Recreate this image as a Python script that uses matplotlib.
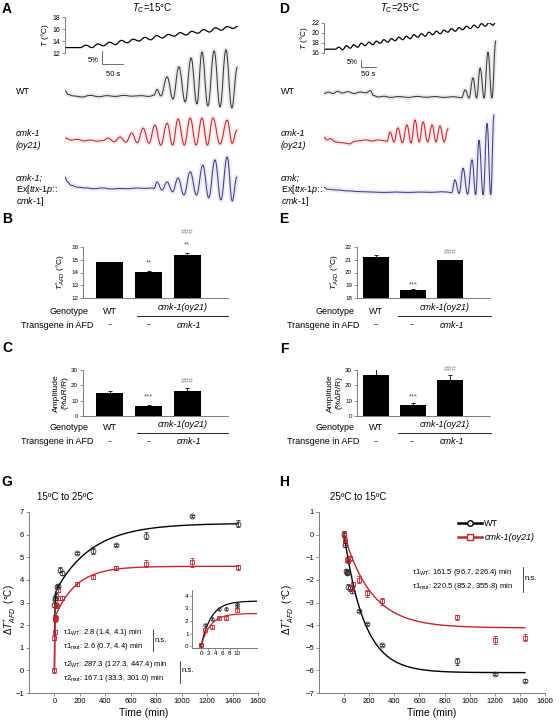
import numpy as np
import matplotlib
matplotlib.use('Agg')
import matplotlib.pyplot as plt
from matplotlib.lines import Line2D
from matplotlib.path import Path
from matplotlib.patches import PathPatch

plt.rcParams['font.family'] = ['Liberation Sans', 'DejaVu Sans']
plt.rcParams['mathtext.fontset'] = 'custom'
plt.rcParams['mathtext.rm'] = 'Liberation Sans'
plt.rcParams['mathtext.it'] = 'Liberation Sans:italic'
plt.rcParams['mathtext.bf'] = 'Liberation Sans:bold'

# ---------------- data ----------------
# A: temperature ramp (s, degC) and GCaMP traces (s, %dR/R relative to baseline)
A_T_t = [0, 36, 50, 64, 78, 92, 106, 120, 134, 148, 162, 176, 190, 204, 218, 232,
         246, 260, 274, 288, 302, 316, 330, 344, 358, 372, 386, 400, 410]
A_T_v = [12.9, 12.9, 13.3, 12.9, 13.5, 13.2, 13.8, 13.4, 14.1, 13.7, 14.3, 14.0, 14.6, 14.2,
         14.9, 14.5, 15.1, 14.8, 15.4, 15.0, 15.6, 15.3, 15.9, 15.5, 16.2, 15.8, 16.4, 16.1, 16.4]
A_wt_t = [0, 8, 20, 40, 60, 80, 100, 120, 140, 160, 180, 200, 212, 219, 228, 243, 257,
          271, 286, 300, 314, 326, 340, 355, 369, 383, 397, 410]
A_wt_v = [2.0, 0.5, 0.0, -0.4, 0.2, -0.3, 0.1, -0.2, 0.2, -0.1, 0.1, -0.2, 0.3, 2.5, 0.0,
          7.3, -1.2, 11.2, -2.3, 14.6, -3.1, 16.9, -3.8, 17.3, -4.2, 17.7, -4.6, 11.0]
A_cmk_t = [0, 15, 30, 45, 60, 75, 90, 102, 117, 131, 145, 159, 172, 186, 200, 214, 228,
           243, 256, 269, 284, 298, 312, 326, 339, 352, 369, 386, 398, 409]
A_cmk_v = [0.8, 0.0, 0.3, -0.3, 0.0, -0.4, -0.2, 0.8, -0.6, 1.2, -0.8, 2.7, -1.0, 4.6, -1.2,
           5.8, -1.9, 6.5, -1.9, 8.1, -1.9, 8.5, -1.9, 8.5, -1.9, 8.5, -1.5, 7.7, -1.2, 3.8]
A_res_t = [0, 5, 15, 30, 50, 70, 90, 110, 130, 150, 170, 190, 205, 212, 219, 231, 243,
           256, 269, 283, 298, 313, 328, 342, 357, 371, 386, 398, 409]
A_res_v = [4.2, 2.5, 1.0, 0.3, 0.0, -0.3, 0.0, -0.4, -0.2, -0.3, 0.0, -0.2, 0.0, -0.2, 2.3,
           -0.8, 2.3, -1.5, 3.8, -2.7, 6.2, -2.7, 8.8, -3.8, 10.8, -4.6, 11.9, -5.0, 4.2]

# D: temperature ramp sampled every 12.5 s after 37 s
D_T_start = 16.7
D_T_v = [16.7, 17.1, 16.6, 17.4, 16.9, 17.6, 17.1, 17.9, 17.4, 18.1, 17.6, 18.3, 17.9, 18.6,
         18.1, 18.8, 18.4, 19.1, 18.6, 19.3, 18.8, 19.6, 19.1, 19.8, 19.3, 20.1, 19.6, 20.3,
         19.8, 20.5, 20.1, 20.8, 20.3, 21.0, 20.6, 21.3, 20.8, 21.5, 21.0, 21.8, 21.3, 22.0,
         21.5, 22.3]
D_wt_t = [0, 15, 30, 45, 60, 80, 100, 120, 140, 155, 165, 180, 200, 220, 250, 280, 310,
          340, 370, 400, 430, 458, 470, 483, 496, 508, 520, 533, 546, 559, 572]
D_wt_v = [2.5, 3.5, 2.5, 4.0, 2.8, 3.8, 2.5, 3.5, 3.0, 4.5, 1.0, 0.0, 0.5, -0.3, 0.3, -0.3,
          0.4, -0.2, 0.3, -0.3, 0.2, -0.5, 5.0, -0.7, 13.6, -0.7, 20.7, -0.7, 32.0, -0.7, 40.0]
D_cmk_t = [0, 10, 20, 40, 60, 87, 100, 120, 140, 160, 180, 200, 210, 220, 233, 246, 261,
           276, 290, 303, 317, 330, 345, 360, 373, 386, 400, 413]
D_cmk_v = [2.0, 0.0, 1.0, -1.5, -2.0, -2.8, -1.0, -0.5, 0.0, -0.7, 0.0, -0.5, -1.0, 5.7,
           -1.4, 8.6, -2.0, 10.7, -2.1, 14.3, -1.4, 12.9, -1.4, 10.7, -1.4, 10.0, -1.4, 8.0]
D_res_t = [0, 10, 40, 80, 120, 160, 200, 240, 280, 320, 360, 390, 410, 425, 436, 450, 463,
           478, 493, 505, 516, 530, 543, 555, 566]
D_res_v = [3.5, 2.0, 1.5, 0.8, 0.3, 0.0, -0.3, 0.0, -0.3, 0.0, -0.2, 0.2, 0.0, -0.5, 8.6,
           -1.0, 17.0, -1.5, 23.0, -2.0, 37.0, -2.0, 49.0, -2.0, 55.0]

# B, C, E, F bar charts (WT, cmk-1(oy21), cmk-1 rescue)
B_val, B_err = [14.8, 14.05, 15.4], [0.05, 0.08, 0.1]
C_val, C_err = [15.3, 6.2, 16.5], [1.3, 0.7, 1.5]
E_val, E_err = [21.25, 18.6, 20.95], [0.12, 0.08, 0.05]
F_val, F_err = [27.0, 7.5, 23.5], [4.0, 0.8, 3.2]

# G: 15 -> 25 C
G_wt_t = [0, 2, 5, 10, 20, 30, 45, 60, 180, 300, 480, 720, 1080, 1440]
G_wt_y = [2.9, 3.2, 3.1, 3.3, 3.7, 3.75, 4.45, 4.3, 5.2, 5.28, 5.55, 5.95, 6.82, 6.48]
G_wt_e = [0.1, 0.08, 0.1, 0.1, 0.08, 0.08, 0.12, 0.1, 0.05, 0.12, 0.05, 0.15, 0.05, 0.15]
G_mut_t = [0, 0, 1, 2, 5, 10, 15, 20, 30, 45, 60, 180, 300, 480, 720, 1080, 1440]
G_mut_y = [0.0, 1.45, 1.7, 2.25, 2.35, 2.3, 2.9, 2.85, 3.55, 3.2, 3.2, 3.82, 4.13, 4.53,
           4.72, 4.78, 4.55]
G_mut_e = [0.12, 0.1, 0.1, 0.1, 0.1, 0.1, 0.1, 0.08, 0.1, 0.1, 0.08, 0.08, 0.1, 0.08,
           0.15, 0.2, 0.1]
G_tau_wt = (2.8, 287.3)
G_tau_mut = (2.6, 167.1)
G_amp_wt = (3.4, 3.1)
G_amp_mut = (2.3, 2.3)
# G inset (first 10 min)
Gi_wt_t = [0, 1, 3, 5, 7, 10, 10]
Gi_wt_y = [0.05, 1.7, 2.2, 2.95, 3.0, 3.2, 3.35]
Gi_mut_t = [0, 1, 3, 5, 7, 10]
Gi_mut_y = [0.05, 1.3, 1.55, 2.25, 2.25, 2.85]
Gi_amp_wt, Gi_amp_mut = 3.6, 2.6

# H: 25 -> 15 C
H_wt_t = [0, 5, 15, 20, 25, 30, 45, 60, 120, 180, 300, 900, 1200, 1440]
H_wt_y = [0.0, -0.45, -1.6, -1.7, -1.65, -2.3, -2.38, -2.5, -3.37, -3.95, -4.88, -5.6,
          -6.15, -6.45]
H_wt_e = [0.1, 0.1, 0.1, 0.1, 0.08, 0.1, 0.1, 0.1, 0.06, 0.06, 0.05, 0.15, 0.05, 0.08]
H_mut_t = [0, 5, 10, 20, 30, 45, 60, 70, 120, 180, 300, 900, 1200, 1440]
H_mut_y = [0.05, -0.25, -0.35, -1.1, -1.15, -1.05, -2.35, -2.2, -2.0, -2.6, -2.95, -3.66,
           -4.65, -4.56]
H_mut_e = [0.1, 0.1, 0.1, 0.12, 0.1, 0.1, 0.12, 0.1, 0.15, 0.15, 0.15, 0.1, 0.18, 0.15]
H_tau_wt, H_tau_mut = 161.5, 220.5
H_amp_wt, H_amp_mut = -6.1, -4.12

RED = '#c1272d'
BLUE = '#3c3c8c'
GREY = '#3a3a3a'
SPINE = '#666666'

W, H = 560, 721
fig = plt.figure(figsize=(W / 100, H / 100), dpi=100)


def px_axes(x0, y0, x1, y1):
    return fig.add_axes([x0 / W, 1 - y1 / H, (x1 - x0) / W, (y1 - y0) / H])


def ftext(x, y, s, **kw):
    kw.setdefault('va', 'center')
    fig.text(x / W, 1 - y / H, s, **kw)


def fline(xs, ys, **kw):
    fig.add_artist(Line2D([x / W for x in xs], [1 - y / H for y in ys], **kw))


def style(ax, size=5.5):
    for s in ['top', 'right']:
        ax.spines[s].set_visible(False)
    for s in ['left', 'bottom']:
        ax.spines[s].set_color(SPINE)
        ax.spines[s].set_linewidth(0.6)
    ax.tick_params(labelsize=size, length=2, width=0.5, color=SPINE, pad=1.5)


def smooth_trace(ax, t, v, **kw):
    # draw the measured points joined by Bezier segments with flat tangents at each point
    verts = [(t[0], v[0])]
    codes = [Path.MOVETO]
    for i in range(1, len(t)):
        d = (t[i] - t[i - 1]) * 0.4
        verts += [(t[i - 1] + d, v[i - 1]), (t[i] - d, v[i]), (t[i], v[i])]
        codes += [Path.CURVE4] * 3
    ax.add_patch(PathPatch(Path(verts, codes), fill=False, capstyle='round', **kw))


# panel letters
for lab, x, y in [('A', 7, 9), ('B', 7, 219), ('C', 7, 348), ('D', 284, 9),
                  ('E', 284, 219), ('F', 284, 349), ('G', 7, 482), ('H', 284, 482)]:
    ftext(x, y, lab, fontsize=10, fontweight='bold', ha='center')

# ---------------- A / D traces ----------------


def trace_panel(tbox, ybox, xmax, T_t, T_v, T_lim, T_ticks, traces, ylim, scale, title, tx):
    axT = px_axes(*tbox)
    axT.set_xlim(0, xmax)
    axT.set_ylim(*T_lim)
    smooth_trace(axT, T_t, T_v, color='black', lw=0.9)
    axT.set_yticks(T_ticks)
    style(axT, 5)
    axT.spines['bottom'].set_visible(False)
    axT.set_xticks([])
    axT.patch.set_alpha(0)
    axT.set_ylabel(r'$T$ (°C)', fontsize=6, labelpad=1)

    ax = px_axes(*ybox)
    ax.set_xlim(0, xmax)
    ax.set_ylim(*ylim)
    ax.axis('off')
    for t, v, off, c in traces:
        v = np.asarray(v) + off
        smooth_trace(ax, t, v, color=c, lw=3.5, alpha=0.1)
        smooth_trace(ax, t, v, color=c, lw=0.75)
    sx, sy, sw, sh = scale
    ax.plot([sx, sx, sx + sw], [sy, sy - sh, sy - sh], color='#555555', lw=0.6)
    ftext(tx, 8, title, fontsize=7, ha='center')
    return ax


trace_panel((65, 17, 240, 53), (65, 40, 240, 215), 416.5, A_T_t, A_T_v, (12, 18),
            [12, 14, 16, 18],
            [(A_wt_t, A_wt_v, -21.5, GREY), (A_cmk_t, A_cmk_v, -38.5, RED),
             (A_res_t, A_res_v, -56.9, BLUE)],
            (-67.3, 0), (88, -4.2, 50, 5), r'$T_{C}$=15°C', 152)
ftext(99, 60, '5%', fontsize=5.5, ha='right')
ftext(113, 74, '50 s', fontsize=5.5, ha='center')

D_T_t = np.r_[0, 37 + 12.5 * np.arange(len(D_T_v))]
trace_panel((324, 22.7, 500, 52.7), (324, 40, 500, 215), 586, D_T_t, np.r_[D_T_start, D_T_v],
            (16, 22), [16, 18, 20, 22],
            [(D_wt_t, D_wt_v, -40.7, GREY), (D_cmk_t, D_cmk_v, -71.4, RED),
             (D_res_t, D_res_v, -108.6, BLUE)],
            (-125, 0), (123, -14.3, 50, 5), r'$T_{C}$=25°C', 400)
ftext(358, 62, '5%', fontsize=5.5, ha='right')
ftext(368, 74, '50 s', fontsize=5.5, ha='center')

lab_kw = dict(fontsize=6.5, ha='left')
for x0 in (16, 281):
    ftext(x0, 92, 'WT', **lab_kw)
    ftext(x0, 133, 'cmk-1', style='italic', **lab_kw)
    ftext(x0, 145, '(oy21)', style='italic', **lab_kw)
    ftext(x0, 190, r'Ex[$\mathit{ttx}$-$\mathit{1p}$::', **lab_kw)
    ftext(x0, 202, r'$\mathit{cmk}$-$\mathit{1}$]', **lab_kw)
ftext(16, 178, 'cmk-1;', style='italic', **lab_kw)
ftext(281, 178, 'cmk;', style='italic', **lab_kw)

# ---------------- bar panels ----------------


def bar_panel(box, xlim, vals, errs, ylim, yticks, ylabel, marks):
    ax = px_axes(*box)
    ax.bar(range(3), vals, width=0.7, color='black', bottom=0,
           yerr=[[0, 0, 0], errs], error_kw=dict(ecolor='black', elinewidth=0.6, capsize=1.5,
                                                 capthick=0.6))
    ax.set_xlim(*xlim)
    ax.set_ylim(*ylim)
    ax.set_yticks(yticks)
    ax.set_xticks([])
    style(ax, 4.5)
    ax.set_ylabel(ylabel, fontsize=6, labelpad=2)
    for i, y, s, c in marks:
        ax.text(i, y, s, fontsize=5.5, ha='center', va='center', color=c, clip_on=False)
    return ax


def genotype_rows(xlab, xs, y0, line):
    ftext(xlab, y0, 'Genotype', fontsize=6.5, ha='right')
    ftext(xlab + 4, y0 + 14, 'Transgene in AFD', fontsize=6.5, ha='right')
    ftext(xs[0], y0, 'WT', fontsize=6.5, ha='center')
    ftext((line[0] + line[1]) / 2, y0 - 3, 'cmk-1(oy21)', fontsize=6.5, ha='center',
          style='italic')
    fline(line, [y0 + 5, y0 + 5], color='black', lw=0.6)
    ftext(xs[0], y0 + 14, '--', fontsize=5.5, ha='center')
    ftext(xs[1], y0 + 14, '--', fontsize=5.5, ha='center')
    ftext(xs[2] + 2, y0 + 14, 'cmk-1', fontsize=6.5, ha='center', style='italic')


Tlab = r'$T^{*}_{AFD}$ (°C)'
Alab = 'Amplitude\n(%ΔR/R)'
STAR = '#555555'
HASH = '#888888'
bar_panel((83, 247, 228, 298), (-0.7, 3.06), B_val, B_err, (12, 16), [12, 13, 14, 15, 16], Tlab,
          [(1, 14.72, '**', STAR), (2, 16.15, '**', STAR), (2, 17.1, '###', HASH)])
bar_panel((83, 370, 228, 416), (-0.7, 3.06), C_val, C_err, (0, 30), [0, 10, 20, 30], Alab,
          [(1, 12.4, '***', STAR), (2, 22.2, '###', HASH)])
bar_panel((357, 247, 490, 298), (-0.51, 3.08), E_val, E_err, (18, 22), [18, 19, 20, 21, 22], Tlab,
          [(1, 19.0, '***', STAR), (2, 21.6, '###', HASH)])
bar_panel((357, 370, 490, 416), (-0.51, 3.08), F_val, F_err, (0, 30), [0, 10, 20, 30], Alab,
          [(1, 12.4, '***', STAR), (2, 30.3, '###', HASH)])
genotype_rows(89, (110, 149, 187), 311, (137, 228))
genotype_rows(89, (110, 149, 187), 428, (137, 228))
genotype_rows(355, (376, 412, 450), 311, (398, 491))
genotype_rows(355, (376, 412, 450), 428, (398, 491))

# ---------------- G / H ----------------
mk = dict(ms=3.5, mew=0.6, mfc='none', ls='none', elinewidth=0.6, capsize=1.2, capthick=0.6)
t_fit = np.linspace(0, 1440, 600)
dT_lab = 'Δ' + r'$T^{*}_{AFD}$' + '  (°C)'

axG = px_axes(29, 512, 258, 693)
axG.errorbar(G_wt_t, G_wt_y, yerr=G_wt_e, marker='o', color='#333333', **mk)
axG.errorbar(G_mut_t, G_mut_y, yerr=G_mut_e, marker='s', color=RED, **mk)
axG.plot(t_fit, G_amp_wt[0] * (1 - np.exp(-t_fit / G_tau_wt[0]))
         + G_amp_wt[1] * (1 - np.exp(-t_fit / G_tau_wt[1])), color='black', lw=1)
axG.plot(t_fit, G_amp_mut[0] * (1 - np.exp(-t_fit / G_tau_mut[0]))
         + G_amp_mut[1] * (1 - np.exp(-t_fit / G_tau_mut[1])), color=RED, lw=1)
axG.set_xlim(-200, 1600)
axG.set_ylim(-1, 7)
axG.set_xticks(range(0, 1601, 200))
axG.set_yticks(range(-1, 8))
style(axG, 5.5)
axG.set_xlabel('Time (min)', fontsize=7.5, labelpad=2)
axG.set_ylabel(dT_lab, fontsize=7)
axG.yaxis.set_label_coords(-0.05, 0.46)
ftext(37, 497, '15ºC to 25ºC', fontsize=7, ha='left')

sub = dict(fontsize=5.5, ha='left')
ftext(63, 633, r'τ1$_{\mathrm{WT}}$: 2.8 (1.4, 4.1) min', **sub)
ftext(63, 647, r'τ1$_{\mathrm{mut}}$: 2.6 (0.7, 4.4) min', **sub)
fline([153, 153], [629, 651], color='black', lw=0.5)
ftext(155, 641, 'n.s.', **sub)
ftext(63, 665, r'τ2$_{\mathrm{WT}}$: 287.3 (127.3, 447.4) min', **sub)
ftext(63, 678, r'τ2$_{\mathrm{mut}}$: 167.1 (33.3, 301.0) min', **sub)
fline([180, 180], [661, 683], color='black', lw=0.5)
ftext(182, 671, 'n.s.', **sub)

axI = px_axes(192, 590, 257, 648)
ti = np.linspace(0, 15.5, 200)
axI.plot(ti, Gi_amp_wt * (1 - np.exp(-ti / G_tau_wt[0])), color='black', lw=0.9)
axI.plot(ti, Gi_amp_mut * (1 - np.exp(-ti / G_tau_mut[0])), color=RED, lw=0.9)
mki = dict(mk, ms=2.5, capsize=0.8)
axI.errorbar(Gi_wt_t, Gi_wt_y, yerr=0.1, marker='o', color='#333333', **mki)
axI.errorbar(Gi_mut_t, Gi_mut_y, yerr=0.1, marker='s', color=RED, **mki)
axI.set_xlim(-2.5, 15.5)
axI.set_ylim(-0.16, 4.48)
axI.set_xticks([0, 2, 4, 6, 8, 10])
axI.set_yticks([0, 1, 2, 3, 4])
style(axI, 4.5)
axI.tick_params(length=1.5, pad=1)

axH = px_axes(319, 512, 545, 693)
axH.errorbar(H_wt_t, H_wt_y, yerr=H_wt_e, marker='o', color='#333333', **mk)
axH.errorbar(H_mut_t, H_mut_y, yerr=H_mut_e, marker='s', color=RED, **mk)
axH.plot(t_fit, H_amp_wt * (1 - np.exp(-t_fit / H_tau_wt)), color='black', lw=1)
axH.plot(t_fit, H_amp_mut * (1 - np.exp(-t_fit / H_tau_mut)), color=RED, lw=1)
axH.set_xlim(-200, 1600)
axH.set_ylim(-7, 1)
axH.set_xticks(range(0, 1601, 200))
axH.set_yticks(range(-7, 2))
style(axH, 5.5)
axH.set_xlabel('Time (min)', fontsize=7.5, labelpad=2)
axH.set_ylabel(dT_lab, fontsize=7)
axH.yaxis.set_label_coords(-0.1, 0.46)
ftext(330, 497, '25ºC to 15ºC', fontsize=7, ha='left')

handles = [Line2D([], [], color='black', lw=1.8, marker='o', mfc='white', ms=4, mew=1),
           Line2D([], [], color=RED, lw=1.8, marker='s', mfc='white', ms=4, mew=1)]
leg = axH.legend(handles, ['WT', 'cmk-1(oy21)'], loc='upper left', bbox_to_anchor=(0.6, 0.98),
                 frameon=False, fontsize=6.5, handlelength=2.6, handletextpad=0.3,
                 labelspacing=0.5, borderaxespad=0)
leg.get_texts()[1].set_fontstyle('italic')

ftext(412, 573, r'τ1$_{\mathrm{WT}}$: 161.5 (96.7, 226.4) min', **sub)
ftext(412, 587, r'τ1$_{\mathrm{mut}}$: 220.5 (85.2, 355.8) min', **sub)
fline([523, 523], [567, 592], color='black', lw=0.5)
ftext(525, 578, 'n.s.', **sub)

fig.savefig('out.png', dpi=100)
